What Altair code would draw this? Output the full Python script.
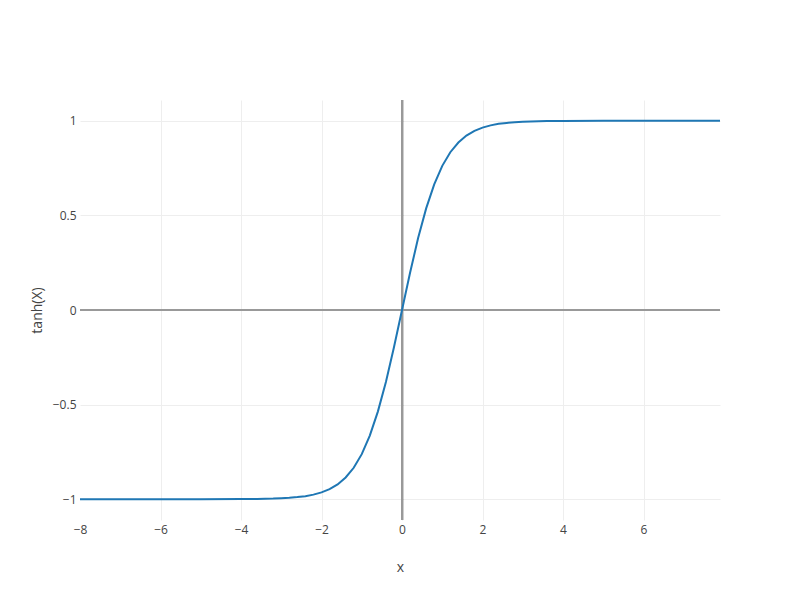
import altair as alt
import pandas as pd

# values (tanh curve)
x_vals = [-8.0, -7, -6, -5, -4.0, -3.8, -3.6, -3.4, -3.2, -3.0, -2.8, -2.6, -2.4, -2.2, -2.0,
          -1.8, -1.6, -1.4, -1.2, -1.0, -0.8, -0.6, -0.4, -0.2, 0.0,
          0.2, 0.4, 0.6, 0.8, 1.0, 1.2, 1.4, 1.6, 1.8, 2.0,
          2.2, 2.4, 2.6, 2.8, 3.0, 3.2, 3.4, 3.6, 3.8, 4.0, 5, 6, 7, 7.9]
y_vals = [-1.0, -1.0, -1.0, -1.0, -0.999, -0.999, -0.999, -0.998, -0.997, -0.995, -0.993, -0.989, -0.984, -0.976, -0.964,
          -0.947, -0.922, -0.885, -0.834, -0.762, -0.664, -0.537, -0.380, -0.197, 0.0,
          0.197, 0.380, 0.537, 0.664, 0.762, 0.834, 0.885, 0.922, 0.947, 0.964,
          0.976, 0.984, 0.989, 0.993, 0.995, 0.997, 0.998, 0.999, 0.999, 0.999, 1.0, 1.0, 1.0, 1.0]
x_ticks = [-8, -6, -4, -2, 0, 2, 4, 6]
y_ticks = [-1, -0.5, 0, 0.5, 1]

df = pd.DataFrame({"x": x_vals, "y": y_vals})

FONT = "Open Sans"
x_scale = alt.Scale(domain=[-8, 7.9], nice=False, zero=False)
y_scale = alt.Scale(domain=[-1.11, 1.11], nice=False, zero=False)

x_axis = alt.Axis(values=x_ticks, title="x", grid=True, gridColor="#eeeeee", domain=False,
                  gridOpacity={"condition": {"test": "datum.value == -8", "value": 0}, "value": 1},
                  ticks=False, tickSize=0, labelPadding=4, titlePadding=25, labelFlush=False,
                  format="~g",
                  labelFont=FONT, labelFontSize=12, labelColor="#444444",
                  titleFont=FONT, titleFontSize=14, titleColor="#444444", titleFontWeight="normal")
y_axis = alt.Axis(values=y_ticks, title="tanh(X)", grid=True, gridColor="#eeeeee", domain=False,
                  ticks=False, tickSize=0, labelPadding=4, titlePadding=8, labelFlush=False,
                  format="~g",
                  labelFont=FONT, labelFontSize=12, labelColor="#444444",
                  titleFont=FONT, titleFontSize=14, titleColor="#444444", titleFontWeight="normal")

line = alt.Chart(df).mark_line(color="#1f77b4", strokeWidth=2, clip=True).encode(
    x=alt.X("x:Q", scale=x_scale, axis=x_axis),
    y=alt.Y("y:Q", scale=y_scale, axis=y_axis),
)

zero_x = alt.Chart(df).mark_rule(color="#999999", strokeWidth=2).encode(
    x=alt.X(datum=0, scale=x_scale)
)
zero_y = alt.Chart(df).mark_rule(color="#999999", strokeWidth=2).encode(
    y=alt.Y(datum=0, scale=y_scale)
)

chart = alt.layer(zero_x, zero_y, line).properties(
    width=640, height=420,
    autosize=alt.AutoSizeParams(type="none"),
    padding={"left": 72, "top": 92, "right": 72, "bottom": 72},
    view=alt.ViewBackground(strokeWidth=0, strokeOpacity=0),
).configure_view(strokeWidth=0, strokeOpacity=0).configure(background="white")

chart.save("out.html", embed_options={"renderer": "svg", "actions": False})
